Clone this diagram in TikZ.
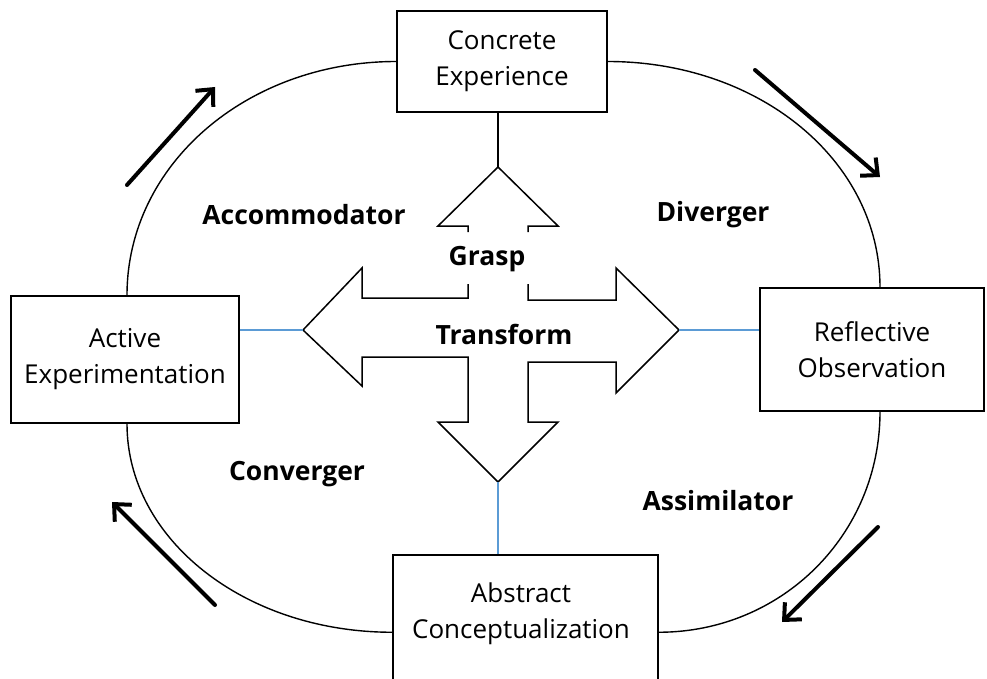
\documentclass[tikz,border=0pt]{standalone}
\usepackage{fontspec}
\setmainfont{Open Sans}
\usetikzlibrary{arrows.meta,calc}
\definecolor{linkblue}{RGB}{91,155,213}
\tikzset{
  box/.style={draw=black, line width=1.5pt, fill=none, align=center, inner sep=0pt,
    font=\fontsize{26}{36}\selectfont},
  boxtext/.style={align=center, inner sep=0pt, font=\fontsize{26}{36}\selectfont},
  zone/.style={inner sep=0pt, font=\fontsize{26.5}{30}\selectfont\bfseries},
  cycle/.style={draw=black, line width=1.4pt},
  bigarrow/.style={draw=black, line width=4pt, line cap=round,
    -{Straight Barb[length=13pt, width=24pt, line width=4pt]}},
  cross/.style={draw=black, line width=1.5pt, line join=miter},
  bluelink/.style={draw=linkblue, line width=1.5pt}
}
\begin{document}
\begin{tikzpicture}[x=1pt,y=-1pt]
\path[use as bounding box, clip] (0,0) rectangle (987,679);

% boxes
\node[box, minimum width=210, minimum height=101] (ce) at (502,61.5) {Concrete\\Experience};
\node[box, minimum width=228, minimum height=127] (ae) at (125,359.5) {Active\\Experimentation};
\node[box, minimum width=224, minimum height=123] (ro) at (872,349.5) {Reflective\\Observation};
\node[box, minimum width=265, minimum height=170] (ac) at (525.5,640) {};
\node[boxtext] (actext) at (521,614) {Abstract\\Conceptualization};

% cycle arcs
\draw[cycle] (ce.west) .. controls +(-149,0) and +(0,-131) .. ([xshift=2pt]ae.north);
\draw[cycle] (ce.east) .. controls +(151,0) and +(0,-127) .. ([xshift=8pt]ro.north);
\draw[cycle] ([xshift=2pt]ae.south) .. controls +(0,116) and +(-147,0) .. ([yshift=-78pt]ac.north west);
\draw[cycle] ([xshift=8pt]ro.south) .. controls +(0,123) and +(123,0) .. ([yshift=-78pt]ac.north east);

% cross tips
\coordinate (utip) at (498,167);
\coordinate (ltip) at (303,330);
\coordinate (rtip) at (679,330);
\coordinate (dtip) at (498,482);

% central cross
\draw[cross] (468,232) -- (468,226) -- (438,226) -- (utip) -- (558,226) -- (528,226) -- (528,232);
\draw[cross] (468,284) -- (468,298) -- (362,298) -- (362,268) -- (ltip) -- (362,386) -- (362,357)
  -- (468,357) -- (468,422) -- (438,422) -- (dtip) -- (558,422) -- (528,422) -- (528,362)
  -- (616,362) -- (616,393) -- (rtip) -- (616,268) -- (616,300) -- (528,300) -- (528,284);

% connectors
\draw[cross] (utip |- ce.south) -- (utip);
\draw[bluelink] (ltip -| ae.east) -- (ltip);
\draw[bluelink] (rtip) -- (rtip -| ro.west);
\draw[bluelink] (dtip) -- (dtip |- ac.north);

% labels
\node[zone] (accom) at (304,215) {Accommodator};
\node[zone] (diver) at (713,215) {Diverger};
\node[zone] (grasp) at (487,259) {Grasp};
\node[zone] (trans) at (504,334) {Transform};
\node[zone] (conv) at (297,474) {Converger};
\node[zone] (assim) at (718,501) {Assimilator};

% big direction arrows
\coordinate (a1s) at (127,185); \coordinate (a1e) at (215,87);
\coordinate (a2s) at (755,70);  \coordinate (a2e) at (880,177);
\coordinate (a3s) at (878,527); \coordinate (a3e) at (782,622);
\coordinate (a4s) at (215,605); \coordinate (a4e) at (112,502);
\draw[bigarrow] (a1s) -- (a1e);
\draw[bigarrow] (a2s) -- (a2e);
\draw[bigarrow] (a3s) -- (a3e);
\draw[bigarrow] (a4s) -- (a4e);
\end{tikzpicture}
\end{document}
